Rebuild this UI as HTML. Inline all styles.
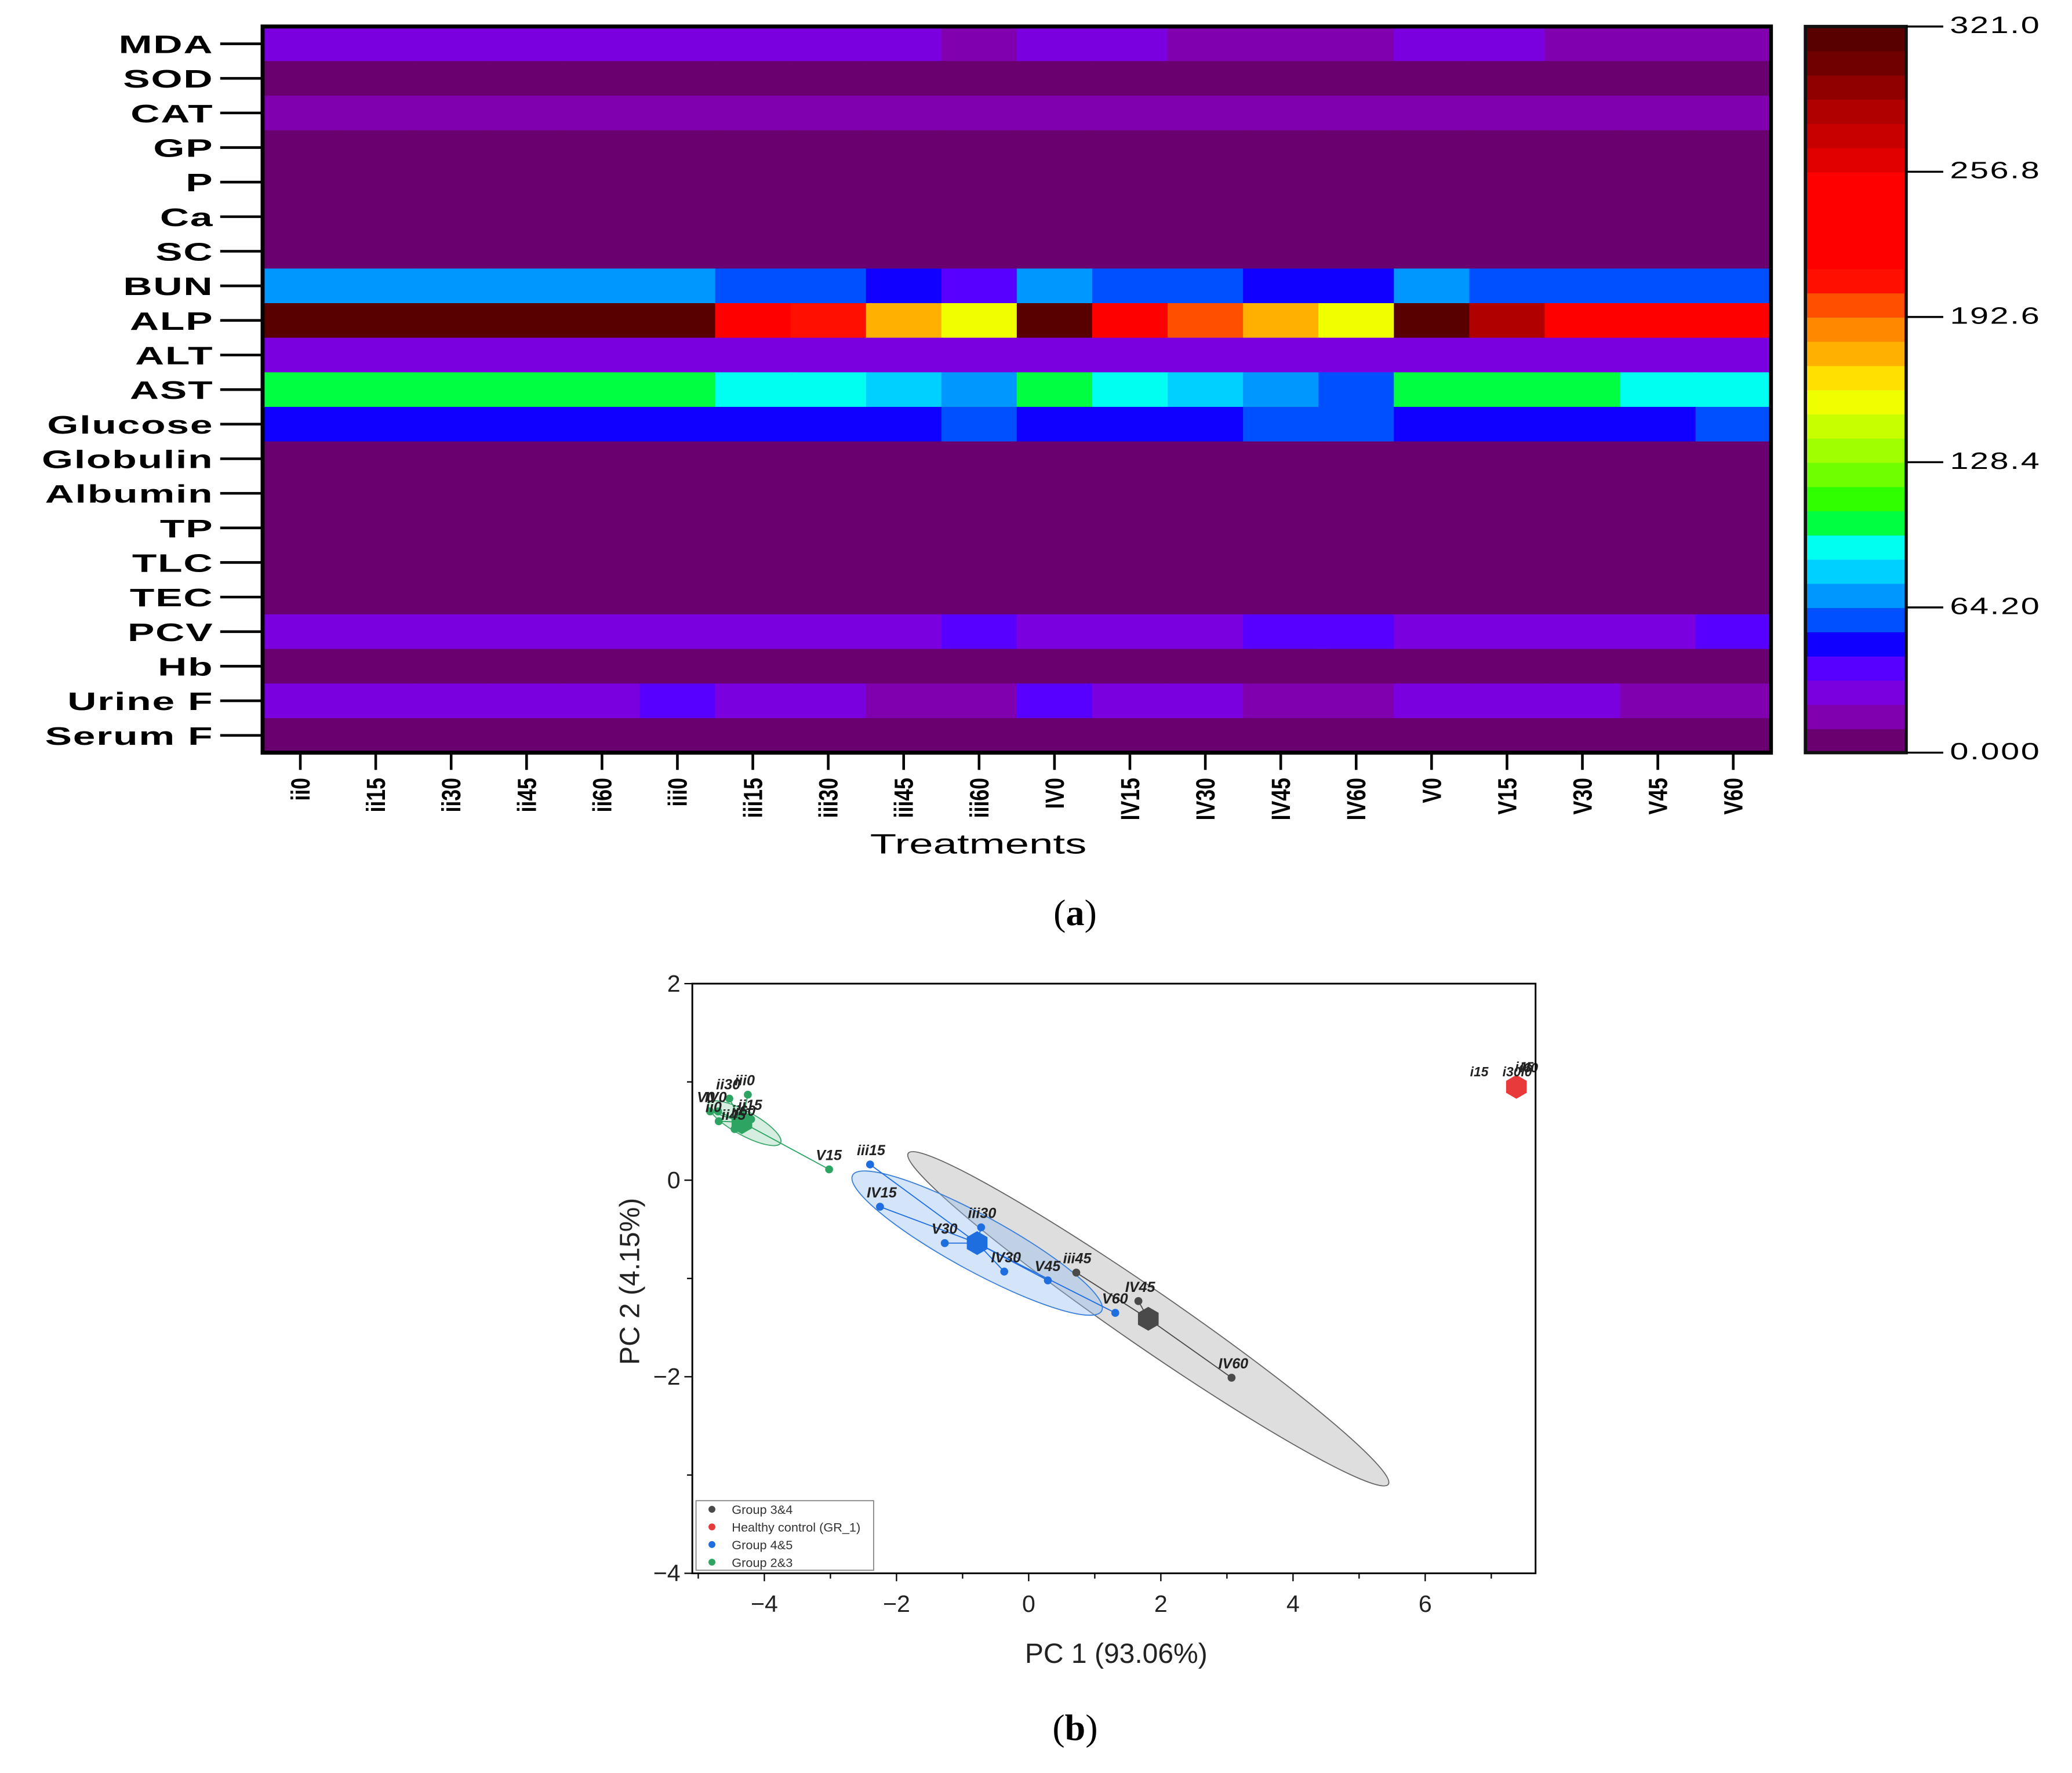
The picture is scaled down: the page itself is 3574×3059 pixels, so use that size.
<!DOCTYPE html>
<html><head><meta charset="utf-8"><style>
html,body{margin:0;padding:0;background:#fff}
svg{display:block}
text{font-family:"Liberation Sans",sans-serif}
</style></head><body>
<svg id="fig" width="3574" height="3059" viewBox="0 0 1563 1338" xmlns="http://www.w3.org/2000/svg">
<g id="heat"></g>
<g id="cbar"></g>
<text x="0" y="0" text-anchor="middle" font-size="21" transform="translate(738 644) scale(1.55 1)">Treatments</text>
<text x="811" y="698" text-anchor="middle" font-size="28" style="font-family:'Liberation Serif',serif">(<tspan font-weight="bold">a</tspan>)</text>
<g id="pca"></g>
<text x="811" y="1313" text-anchor="middle" font-size="28" style="font-family:'Liberation Serif',serif">(<tspan font-weight="bold">b</tspan>)</text>
</svg>
<script>
const NS="http://www.w3.org/2000/svg";
// ---------- heatmap data ----------
const rowsLabels=["MDA","SOD","CAT","GP","P","Ca","SC","BUN","ALP","ALT","AST","Glucose","Globulin","Albumin","TP","TLC","TEC","PCV","Hb","Urine F","Serum F"];
const colLabels=["ii0","ii15","ii30","ii45","ii60","iii0","iii15","iii30","iii45","iii60","IV0","IV15","IV30","IV45","IV60","V0","V15","V30","V45","V60"];
const vMDA=[27,27,27,27,27,27,27,27,27,16,27,27,16,16,16,27,27,16,16,16];
const vSOD=[5,5,5,5,5,5,5,5,5,5,5,5,5,5,5,5,5,5,5,5];
const vCAT=[16,16,16,16,16,16,16,16,16,16,16,16,16,16,16,16,16,16,16,16];
const vGP=[5,5,5,5,5,5,5,5,5,5,5,5,5,5,5,5,5,5,5,5];
const vP=[5,5,5,5,5,5,5,5,5,5,5,5,5,5,5,5,5,5,5,5];
const vCa=[5,5,5,5,5,5,5,5,5,5,5,5,5,5,5,5,5,5,5,5];
const vSC=[5,5,5,5,5,5,5,5,5,5,5,5,5,5,5,5,5,5,5,5];
const vBUN=[70,70,70,70,70,70,59,59,48,37,70,59,59,48,48,70,59,59,59,59];
const vALP=[316,316,316,316,316,316,225,209,176,155,316,225,198,176,155,316,284,225,225,225];
const vALT=[27,27,27,27,27,27,27,27,27,27,27,27,27,27,27,27,27,27,27,27];
const vAST=[102,102,102,102,102,102,91,91,80,70,102,91,80,70,62,102,102,102,91,91];
const vGlucose=[48,48,48,48,48,48,48,48,48,59,48,48,48,59,59,48,48,48,48,59];
const vGlobulin=[5,5,5,5,5,5,5,5,5,5,5,5,5,5,5,5,5,5,5,5];
const vAlbumin=[5,5,5,5,5,5,5,5,5,5,5,5,5,5,5,5,5,5,5,5];
const vTP=[5,5,5,5,5,5,5,5,5,5,5,5,5,5,5,5,5,5,5,5];
const vTLC=[5,5,5,5,5,5,5,5,5,5,5,5,5,5,5,5,5,5,5,5];
const vTEC=[5,5,5,5,5,5,5,5,5,5,5,5,5,5,5,5,5,5,5,5];
const vPCV=[27,27,27,27,27,27,27,27,27,37,27,27,27,37,37,27,27,27,27,37];
const vHb=[5,5,5,5,5,5,5,5,5,5,5,5,5,5,5,5,5,5,5,5];
const vUrineF=[27,27,27,27,27,37,27,27,16,16,37,27,27,16,16,27,27,27,16,16];
const vSerumF=[5,5,5,5,5,5,5,5,5,5,5,5,5,5,5,5,5,5,5,5];
const heatValues=[vMDA,vSOD,vCAT,vGP,vP,vCa,vSC,vBUN,vALP,vALT,vAST,vGlucose,vGlobulin,vAlbumin,vTP,vTLC,vTEC,vPCV,vHb,vUrineF,vSerumF];
const cbTicks=["321.0","256.8","192.6","128.4","64.20","0.000"];
const cbMin=0, cbMax=321;
const bandColors=["#6a0070","#8000b0","#7a00e0","#5800ff","#1000ff","#0050ff","#0098ff","#00d0ff","#00fff0","#00ff40","#30ff00","#70ff00","#a0ff00","#c8ff00","#f0ff00","#ffe000","#ffb000","#ff8800","#ff5000","#ff1000","#ff0000","#ff0000","#ff0000","#ff0000","#e00000","#c80000","#b00000","#900000","#700000","#580000"];

function mk(tag,attrs,parent){const e=document.createElementNS(NS,tag);for(const k in attrs)e.setAttribute(k,attrs[k]);parent.appendChild(e);return e;}
function colorOf(v){let k=Math.floor((v-cbMin)/(cbMax-cbMin)*bandColors.length);k=Math.max(0,Math.min(bandColors.length-1,k));return bandColors[k];}

const HL=198,HR=1336,HT=20,HB=568;
const cw=(HR-HL)/colLabels.length, rh=(HB-HT)/rowsLabels.length;
const hx=i=>HL+i*cw, hy=j=>HT+j*rh;
const heat=document.getElementById('heat');
heatValues.forEach((row,j)=>{
  row.forEach((v,i)=>{
    const r=mk('rect',{x:hx(i),y:hy(j),width:cw+0.6,height:rh+0.6,fill:colorOf(v)},heat);
    
    
  });
});
let fr=mk('rect',{x:HL,y:HT,width:HR-HL,height:HB-HT,fill:'none',stroke:'#000','stroke-width':3},heat);


rowsLabels.forEach((l,j)=>{
  const cy=hy(j)+rh/2;
  const t=mk('line',{x1:166,x2:HL,y1:cy,y2:cy,stroke:'#000','stroke-width':2},heat);
  
  
  const tx=mk('text',{x:0,y:0,'text-anchor':'end','font-size':19,'font-weight':'bold','letter-spacing':'0.5',transform:`translate(161 ${cy+7}) scale(1.6 1)`},heat);
  tx.textContent=l;
  
  
});
colLabels.forEach((l,i)=>{
  const cx=hx(i)+cw/2;
  const t=mk('line',{x1:cx,x2:cx,y1:HB,y2:HB+13,stroke:'#000','stroke-width':2},heat);
  
  
  const tx=mk('text',{x:0,y:0,'text-anchor':'end','font-size':20,'font-weight':'bold',transform:`translate(${cx+7},587) rotate(-90) scale(0.78 1)`},heat);
  tx.textContent=l;
  
  
});
// colorbar
const cb=document.getElementById('cbar');
const CL=1362,CR=1438,CT=20,CB=568;
const bh=(CB-CT)/bandColors.length;
bandColors.forEach((c,k)=>{
  const r=mk('rect',{x:CL,y:CB-(k+1)*bh,width:CR-CL,height:bh+0.5,fill:c},cb);
  
  
});
let cf=mk('rect',{x:CL,y:CT,width:CR-CL,height:CB-CT,fill:'none',stroke:'#111','stroke-width':2.5},cb);


cbTicks.forEach((l,k)=>{
  const y=CT+k*(CB-CT)/(cbTicks.length-1);
  const t=mk('line',{x1:CR,x2:1466,y1:y,y2:y,stroke:'#000','stroke-width':1.5},cb);
  
  
  const tx=mk('text',{x:0,y:0,'font-size':18,'letter-spacing':'0.8',transform:`translate(1471 ${y+5}) scale(1.4 1)`},cb);
  tx.textContent=l;
  
  
});

// ---------- PCA data ----------
const greenNames=["V0","IV0","ii0","ii45","ii60","ii30","iii0","ii15","V15"];
const greenX=[-4.82,-4.7,-4.69,-4.45,-4.3,-4.53,-4.25,-4.2,-3.02];
const greenY=[0.70,0.70,0.60,0.52,0.56,0.83,0.87,0.62,0.11];
const greenCentroid=[-4.34,0.59];
const blueNames=["iii15","IV15","iii30","V30","IV30","V45","V60"];
const blueX=[-2.40,-2.25,-0.72,-1.27,-0.37,0.29,1.31];
const blueY=[0.16,-0.27,-0.48,-0.64,-0.93,-1.02,-1.35];
const blueCentroid=[-0.78,-0.64];
const grayNames=["iii45","IV45","IV60"];
const grayX=[0.72,1.66,3.07];
const grayY=[-0.94,-1.23,-2.01];
const grayCentroid=[1.81,-1.41];
const redNames=["i15","i30i0","i45","i60"];
const redX=[7.36,7.37,7.38,7.39];
const redY=[0.95,0.95,0.96,0.95];
const redCentroid=[7.38,0.95];
const xTickLabels=["-4","-2","0","2","4","6"];
const xTickVals=[-4,-2,0,2,4,6];
const yTickLabels=["2","0","-2","-4"];
const yTickVals=[2,0,-2,-4];

const PL=522.2,PR=1158.4,PT=742.3,PB=1187.3;
const xMin=-5.09,xMax=7.67,yMin=-4,yMax=2;
const sx=v=>PL+(v-xMin)/(xMax-xMin)*(PR-PL);
const sy=v=>PB-(v-yMin)/(yMax-yMin)*(PB-PT);
const pca=document.getElementById('pca');
function hex(cx,cy,r,fill,parent){let p=[];for(let k=0;k<6;k++){const a=Math.PI/6+k*Math.PI/3;p.push((cx+r*Math.cos(a)).toFixed(2)+','+(cy+r*Math.sin(a)).toFixed(2));}return mk('polygon',{points:p.join(' '),fill:fill},parent);}

function ellipse(c,rx,ry,ang,fill,stroke,name){
  const e=mk('ellipse',{cx:sx(c[0]),cy:sy(c[1]),rx:rx,ry:ry,transform:`rotate(${ang} ${sx(c[0])} ${sy(c[1])})`,fill:fill,stroke:stroke,'stroke-width':0.8},pca);
  
  
}
ellipse(grayCentroid,220,21,34.6,'rgba(190,190,190,0.5)','#666','ellipse-group-3-4');
ellipse(blueCentroid,107,21,28.6,'rgba(150,190,240,0.4)','#3a7fd8','ellipse-group-4-5');
ellipse([-4.30,0.58],31,9,28.8,'rgba(120,200,150,0.3)','#40a870','ellipse-group-2-3');

function group(names,xs,ys,cen,color,key){
  names.forEach((n,i)=>{
    const l=mk('line',{x1:sx(cen[0]),y1:sy(cen[1]),x2:sx(xs[i]),y2:sy(ys[i]),stroke:color,'stroke-width':0.8},pca);
    
    
  });
  names.forEach((n,i)=>{
    const c=mk('circle',{cx:sx(xs[i]),cy:sy(ys[i]),r:3,fill:color},pca);
    
    
  });
  const h=hex(sx(cen[0]),sy(cen[1]),9,color,pca);
  
  
  names.forEach((n,i)=>{
    const t=mk('text',{x:sx(xs[i])-10,y:sy(ys[i])-7,'font-size':11,'font-style':'italic','font-weight':'bold',fill:'#222'},pca);
    t.textContent=n;
    
    
  });
}
group(grayNames,grayX,grayY,grayCentroid,'#4a4a4a','group-3-4');
group(blueNames,blueX,blueY,blueCentroid,'#1f6ee0','group-4-5');
group(greenNames,greenX,greenY,greenCentroid,'#2ea462','group-2-3');
{
  const h=hex(sx(redCentroid[0]),sy(redCentroid[1]),9,'#e83a3a',pca);
  
  
  const offs=[-34,-10,-1,2];
  redNames.forEach((n,i)=>{
    const t=mk('text',{x:sx(redX[i])+offs[i],y:sy(redY[i])-8+(i>1?-3:0),'font-size':10,'font-style':'italic','font-weight':'bold',fill:'#222'},pca);
    t.textContent=n;
    
    
  });
}
let pf=mk('rect',{x:PL,y:PT,width:PR-PL,height:PB-PT,fill:'none',stroke:'#000','stroke-width':1.3},pca);


for(let v=-5;v<=7;v++){
  const t=mk('line',{x1:sx(v),x2:sx(v),y1:PB,y2:PB+(v%2===0?6:4),stroke:'#000','stroke-width':1},pca);
  
  
}
xTickVals.forEach((v,i)=>{
  const t=mk('text',{x:sx(v),y:PB+29,'text-anchor':'middle','font-size':18,fill:'#222'},pca);
  t.textContent=xTickLabels[i].replace('-','\u2212');
  
  
});
for(let v=-4;v<=2;v++){
  const t=mk('line',{x1:PL-(v%2===0?6:4),x2:PL,y1:sy(v),y2:sy(v),stroke:'#000','stroke-width':1},pca);
  
  
}
yTickVals.forEach((v,i)=>{
  const t=mk('text',{x:PL-9,y:sy(v)+6,'text-anchor':'end','font-size':18,fill:'#222'},pca);
  t.textContent=yTickLabels[i].replace('-','\u2212');
  
  
});
let xt=mk('text',{x:842,y:1255,'text-anchor':'middle','font-size':21,fill:'#222'},pca);
xt.textContent='PC 1 (93.06%)';


let yt=mk('text',{x:0,y:0,'text-anchor':'middle','font-size':21,fill:'#222',transform:'translate(482 967) rotate(-90)'},pca);
yt.textContent='PC 2 (4.15%)';


const legNames=["Group 3&4","Healthy control (GR_1)","Group 4&5","Group 2&3"];
const legColors=['#4a4a4a','#e83a3a','#1f6ee0','#2ea462'];
let lb=mk('rect',{x:525,y:1132.5,width:134,height:52.5,fill:'#fff',stroke:'#888','stroke-width':0.8},pca);


legNames.forEach((n,i)=>{
  const y=1139+i*13.3;
  const c=mk('circle',{cx:537,cy:y,r:2.6,fill:legColors[i]},pca);
  
  
  const t=mk('text',{x:552,y:y+3.5,'font-size':9.5,fill:'#333'},pca);
  t.textContent=n;
  
  
});
</script>
</body></html>
